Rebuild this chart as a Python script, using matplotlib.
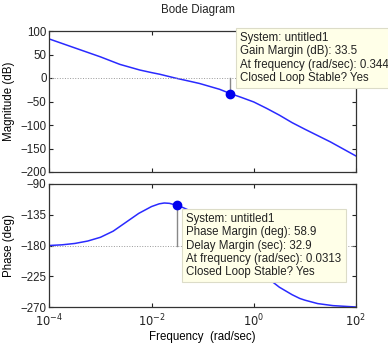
import matplotlib
matplotlib.use("Agg")
import matplotlib.pyplot as plt
from matplotlib.ticker import FixedLocator, NullLocator

plt.rcParams['font.family'] = ['Liberation Sans', 'DejaVu Sans']

# ---- data ----
# frequencies given as decade exponents (log10 of rad/sec)
mag_freq_exp = [-4, -3.5, -3, -2.62, -2.23, -2, -1.84, -1.54, -1.25, -1.06, -0.67,
                -0.45, -0.25, 0, 0.25, 0.5, 0.75, 1, 1.25, 1.5, 1.75, 2]
mag_db = [83, 64, 45, 29, 17, 11.5, 8, 0, -7, -11.7, -24,
          -33.5, -41, -51, -64.5, -79, -95, -109, -122.5, -136, -151, -166]

phase_freq_exp = [-4, -3.75, -3.5, -3.25, -3, -2.75, -2.5, -2.25, -2, -1.85, -1.75, -1.65,
                  -1.5, -1.4, -1.25, -1, -0.75, -0.5, -0.25, 0, 0.25, 0.38, 0.5, 0.75, 0.9,
                  1.0, 1.25, 1.55, 2]
phase_deg = [-180, -179, -177, -173.5, -168, -159, -146, -133, -123, -119, -117.8, -118.3,
             -121.3, -124, -129, -140, -153, -168, -185, -204, -224, -234, -241, -252, -257.5,
             -260, -265, -268, -270]

gm_freq, gm_db, gm_val = 0.344, -33.5, 33.5
pm_freq, pm_phase, pm_val, dm_val = 0.0313, -121.1, 58.9, 32.9

mag_ticks = [100, 50, 0, -50, -100, -150, -200]
phase_ticks = [-90, -135, -180, -225, -270]
freq_ticks = [1e-4, 1e-2, 1e0, 1e2]
freq_ticklabels = [r'$10^{-4}$', r'$10^{-2}$', r'$10^{0}$', r'$10^{2}$']

freq_mag = [10 ** e for e in mag_freq_exp]
freq_phase = [10 ** e for e in phase_freq_exp]

W, H = 388, 347
fig = plt.figure(figsize=(W / 100, H / 100), dpi=100)
ax1 = fig.add_axes([49.3 / W, (H - 172) / H, 306.7 / W, 141 / H])
ax2 = fig.add_axes([49.3 / W, (H - 307) / H, 306.7 / W, 123 / H])

line_color = '#2a2aff'
fs = 8.3
for ax in (ax1, ax2):
    ax.set_xscale('log')
    ax.set_xlim(1e-4, 1e2)
    ax.xaxis.set_major_locator(FixedLocator(freq_ticks))
    ax.xaxis.set_minor_locator(NullLocator())
    ax.tick_params(direction='in', top=True, right=True, length=3, width=0.8,
                   labelsize=fs, colors='#222222', pad=2)
    for s in ax.spines.values():
        s.set_color('#333333')
        s.set_linewidth(0.9)

# magnitude
ax1.plot(freq_mag, mag_db, color=line_color, lw=1.1)
ax1.axhline(0, color='#999999', lw=0.7, ls=':')
ax1.plot([gm_freq, gm_freq], [0, gm_db], color='#888888', lw=1.0)
ax1.plot([gm_freq], [gm_db], 'o', color='#0000ee', ms=6)
ax1.set_ylim(-200, 100)
ax1.yaxis.set_major_locator(FixedLocator(mag_ticks))
ax1.set_xticklabels([])
ax1.set_ylabel('Magnitude (dB)', fontsize=fs)
ax1.yaxis.set_label_coords(-34 / 306.7, 0.5)

# phase
ax2.plot(freq_phase, phase_deg, color=line_color, lw=1.1)
ax2.axhline(-180, color='#999999', lw=0.7, ls=':')
ax2.plot([pm_freq, pm_freq], [-180, pm_phase], color='#888888', lw=1.0)
ax2.plot([pm_freq], [pm_phase], 'o', color='#0000ee', ms=6)
ax2.set_ylim(-270, -90)
ax2.yaxis.set_major_locator(FixedLocator(phase_ticks))
ax2.set_xticklabels(freq_ticklabels)
ax2.tick_params(axis='x', pad=4)
ax2.set_ylabel('Phase (deg)', fontsize=fs)
ax2.yaxis.set_label_coords(-34 / 306.7, 0.5)
ax2.set_xlabel('Frequency  (rad/sec)', fontsize=fs, labelpad=1)

fig.text(198 / W, 1 - 10 / H, 'Bode Diagram', ha='center', va='center', fontsize=fs, color='#222222')

box = dict(boxstyle='square,pad=0.35', facecolor='#ffffe8', edgecolor='#dcdcc8', lw=0.8)
txt1 = ('System: untitled1\n'
        f'Gain Margin (dB): {gm_val}\n'
        f'At frequency (rad/sec): {gm_freq}\n'
        'Closed Loop Stable? Yes')
fig.text(240 / W, 1 - 58 / H, txt1, ha='left', va='center', fontsize=fs,
         linespacing=1.12, color='#222222', bbox=box)
txt2 = ('System: untitled1\n'
        f'Phase Margin (deg): {pm_val}\n'
        f'Delay Margin (sec): {dm_val}\n'
        f'At frequency (rad/sec): {pm_freq}\n'
        'Closed Loop Stable? Yes')
fig.text(186.5 / W, 1 - 245.5 / H, txt2, ha='left', va='center', fontsize=fs,
         linespacing=1.12, color='#222222', bbox=box)

fig.savefig('out.png', dpi=100)
